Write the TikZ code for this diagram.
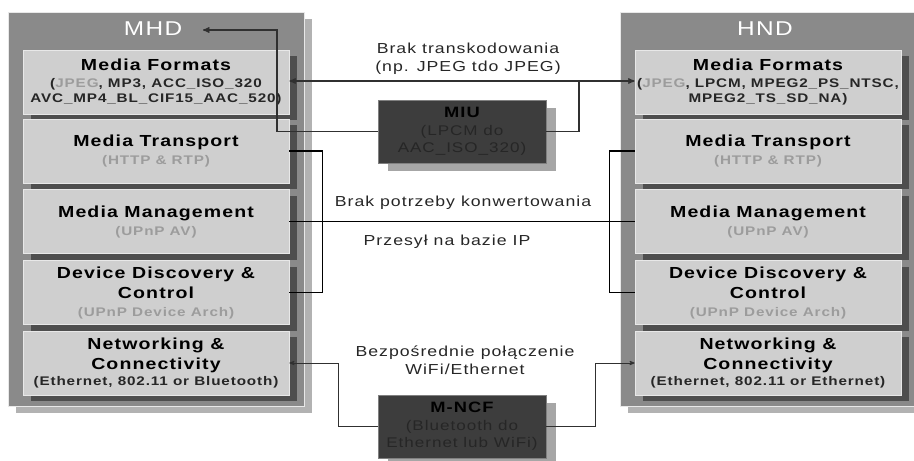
\documentclass[tikz,border=0pt]{standalone}
\usepackage{fontspec}
\setmainfont{Liberation Sans}[FakeStretch=1.22,LetterSpace=7]
\usetikzlibrary{arrows}
\usetikzlibrary{shadows}

\definecolor{panelgray}{HTML}{8A8A8A}
\definecolor{panelshade}{HTML}{B2B2B2}
\definecolor{layerfill}{HTML}{CFCFCF}
\definecolor{layerline}{HTML}{E8E8E8}
\definecolor{layershade}{HTML}{4E4E4E}
\definecolor{unitfill}{HTML}{3D3D3D}
\definecolor{unitshade}{HTML}{A6A6A6}
\definecolor{notegray}{HTML}{9C9C9C}
\definecolor{textdark}{HTML}{262626}
\definecolor{linkgray}{HTML}{303030}

\newcommand\laytitle{\fontsize{16}{19}\selectfont\bfseries\color{black}}
\newcommand\laysub{\fontsize{12.5}{15}\selectfont\bfseries\color{textdark}}
\newcommand\laynote{\fontsize{12.5}{15}\selectfont\bfseries\color{notegray}}
\newcommand\unittitle{\fontsize{15}{18}\selectfont\bfseries\color{black}}
\newcommand\unitsub{\fontsize{14}{17}\selectfont\color{textdark}}

\tikzset{
 panel/.style={draw=layerline, line width=1pt, fill=panelgray, minimum width=296pt, minimum height=394pt,
  drop shadow={shadow xshift=8pt, shadow yshift=-7pt, fill=panelshade, opacity=1}},
 paneltitle/.style={text=white, font=\fontsize{20}{22}\selectfont},
 layer/.style={draw=layerline, line width=0.8pt, fill=layerfill, minimum width=266pt, minimum height=64pt,
  inner sep=0pt, align=center, font=\fontsize{12.5}{15}\selectfont,
  drop shadow={shadow xshift=8pt, shadow yshift=-6pt, fill=layershade, opacity=1}},
 unit/.style={draw=gray, line width=0.8pt, fill=unitfill, minimum width=168pt, minimum height=63pt,
  inner sep=0pt, align=center, font=\fontsize{14}{17}\selectfont,
  drop shadow={shadow xshift=10pt, shadow yshift=-8pt, fill=unitshade, opacity=1}},
 note/.style={text=textdark, align=center, font=\fontsize{14.5}{18}\selectfont},
 link/.style={linkgray, line width=1.3pt, >=stealth'},
 bus/.style={black, line width=1.7pt},
 wire/.style={linkgray, line width=0.8pt, >=stealth'}
}

\begin{document}
\begin{tikzpicture}[x=1pt,y=-1pt]
\clip (0,0) rectangle (914,461);
% devices
\node[panel] (mhdbox) at (156,209) {};
\node[panel] (hndbox) at (768,209) {};
\node[paneltitle] (mhd) at (153,29) {MHD};
\node[paneltitle] (hnd) at (765,29) {HND};

% MHD stack
\node[layer] (mhdfmt) at (156,82) {\laytitle Media Formats\\[2pt]
 \laysub (\textcolor{notegray}{JPEG}, MP3, ACC\_ISO\_320\\ \laysub AVC\_MP4\_BL\_CIF15\_AAC\_520)};
\node[layer] (mhdtrn) at (156,151) {\laytitle Media Transport\\[3pt] \laynote (HTTP \& RTP)};
\node[layer] (mhdmgt) at (156,221.5) {\laytitle Media Management\\[3pt] \laynote (UPnP AV)};
\node[layer] (mhddev) at (156,292.5) {\laytitle Device Discovery \&\\[5pt] \laytitle Control\\[3pt] \laynote (UPnP Device Arch)};
\node[layer] (mhdnet) at (156,363) {\laytitle Networking \&\\[5pt] \laytitle Connectivity\\[1pt]
 \laysub (Ethernet, 802.11 or Bluetooth)};

% HND stack
\node[layer] (hndfmt) at (768,82) {\laytitle Media Formats\\[2pt]
 \laysub (\textcolor{notegray}{JPEG}, LPCM, MPEG2\_PS\_NTSC,\\ \laysub MPEG2\_TS\_SD\_NA)};
\node[layer] (hndtrn) at (768,151) {\laytitle Media Transport\\[3pt] \laynote (HTTP \& RTP)};
\node[layer] (hndmgt) at (768,221.5) {\laytitle Media Management\\[3pt] \laynote (UPnP AV)};
\node[layer] (hnddev) at (768,292.5) {\laytitle Device Discovery \&\\[5pt] \laytitle Control\\[3pt] \laynote (UPnP Device Arch)};
\node[layer] (hndnet) at (768,363) {\laytitle Networking \&\\[5pt] \laytitle Connectivity\\[1pt]
 \laysub (Ethernet, 802.11 or Ethernet)};

% converters
\node[unit] (miu) at (462,131.5) {\unittitle MIU\\[1pt] \unitsub (LPCM do\\ \unitsub AAC\_ISO\_320)};
\node[unit] (mncf) at (462,426.5) {\unittitle M-NCF\\[1pt] \unitsub (Bluetooth do\\ \unitsub Ethernet lub WiFi)};

% labels
\node[note] (notrans) at (468,59) {Brak transkodowania\\ (np. JPEG tdo JPEG)};
\node[note] (noconv) at (463,203) {Brak potrzeby konwertowania};
\node[note] (ipnet) at (447,242) {Przesył na bazie IP};
\node[note] (direct) at (465,360) {Bezpośrednie połączenie\\ WiFi/Ethernet};

% connections
\coordinate (fmtjoin) at (579,81);
\coordinate (mhdin) at (203,30);
\draw[link, <->] (mhdfmt.east |- fmtjoin) -- (hndfmt.west |- fmtjoin);
\draw[link] (fmtjoin) |- (miu.east);
\draw[link, ->] (miu.west) -| (277,30) -- (mhdin);
\draw[bus] (mhdtrn.east) -- ++(33,0) |- (mhddev.east);
\draw[bus] (hndtrn.west) -- ++(-25,0) |- (hnddev.west);
\draw[bus] (mhdmgt) -- (hndmgt);
\draw[wire, <-] (mhdnet.east) -- ++(49,0) |- (mncf.west);
\draw[wire, ->] (mncf.east) -- ++(49,0) |- (hndnet.west);
\end{tikzpicture}
\end{document}
